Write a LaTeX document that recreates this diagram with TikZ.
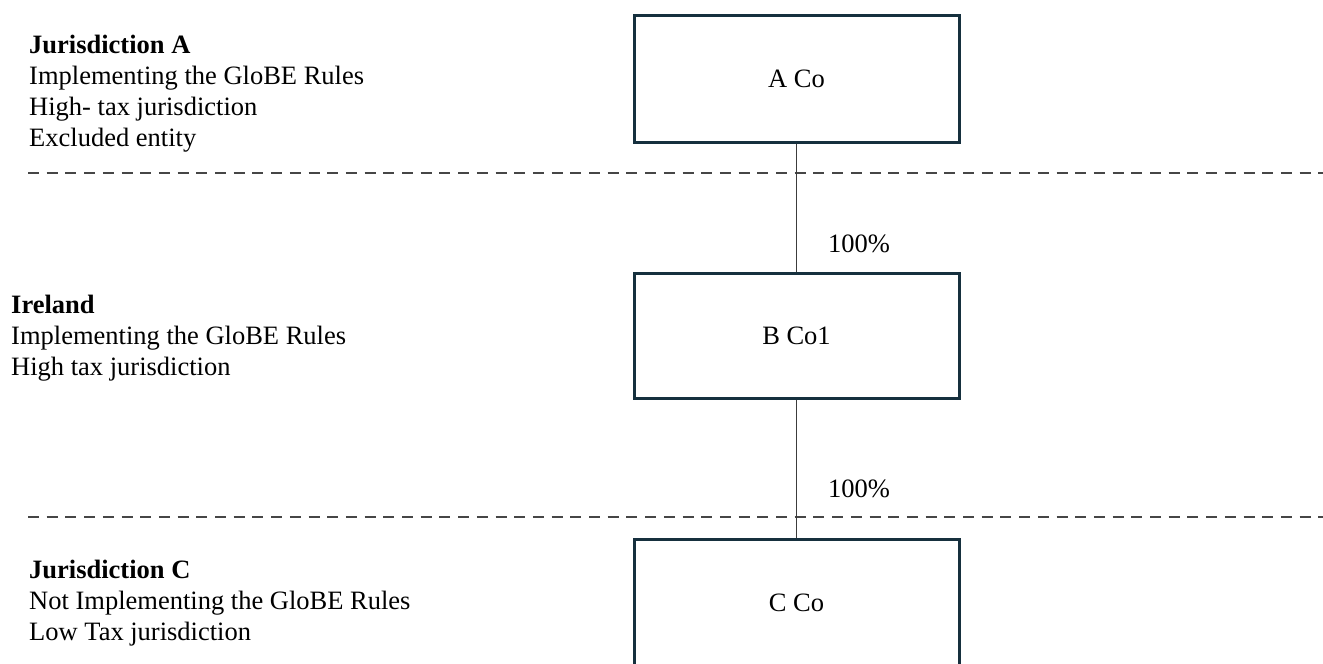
\documentclass[tikz,border=0pt]{standalone}
\usepackage{fontspec}
\setmainfont{Liberation Serif}
\definecolor{boxline}{RGB}{22,48,62}
\definecolor{linkline}{RGB}{60,60,60}
\definecolor{sepline}{RGB}{70,70,70}
\tikzset{
  entity/.style={draw=boxline, line width=3pt, minimum width=325pt, inner sep=0pt,
    font=\fontsize{26.5}{31}\selectfont},
  link/.style={draw=linkline, line width=1.4pt},
  separator/.style={draw=sepline, line width=1.5pt, dash pattern=on 11pt off 7.7pt},
  juris/.style={anchor=base west, inner sep=0pt, font=\fontsize{26.5}{31}\selectfont},
  share/.style={anchor=base west, inner sep=0pt, font=\fontsize{26.5}{31}\selectfont}
}
\begin{document}
\begin{tikzpicture}[x=1pt, y=-1pt]
  \useasboundingbox (0,0) rectangle (1323,664);

  % jurisdiction separators
  \coordinate (sepAl) at (28,173);
  \coordinate (sepAr) at (1323,173);
  \coordinate (sepCl) at (28,517);
  \coordinate (sepCr) at (1323,517);
  \draw[separator] (sepAl) -- (sepAr);
  \draw[separator] (sepCl) -- (sepCr);

  % entities
  \node[entity, minimum height=127pt] (aco) at (796.5,78.5) {A Co};
  \node[entity, minimum height=125pt] (bco) at (796.5,335.5) {B Co1};
  \node[entity, minimum height=128pt] (cco) at (796.5,603) {C Co};

  % ownership links
  \draw[link] (aco.south) -- (bco.north);
  \draw[link] (bco.south) -- (cco.north);
  \node[share] (shareab) at (828,252) {100\%};
  \node[share] (sharebc) at (828,497) {100\%};

  % jurisdiction descriptions
  \node[juris] (jurA) at (29,53) {\begin{tabular}[t]{@{}l@{}}
    \textbf{Jurisdiction A}\\
    Implementing the GloBE Rules\\
    High- tax jurisdiction\\
    Excluded entity
  \end{tabular}};
  \node[juris] (jurIE) at (11,313) {\begin{tabular}[t]{@{}l@{}}
    \textbf{Ireland}\\
    Implementing the GloBE Rules\\
    High tax jurisdiction
  \end{tabular}};
  \node[juris] (jurC) at (29,578) {\begin{tabular}[t]{@{}l@{}}
    \textbf{Jurisdiction C}\\
    Not Implementing the GloBE Rules\\
    Low Tax jurisdiction
  \end{tabular}};
\end{tikzpicture}
\end{document}
